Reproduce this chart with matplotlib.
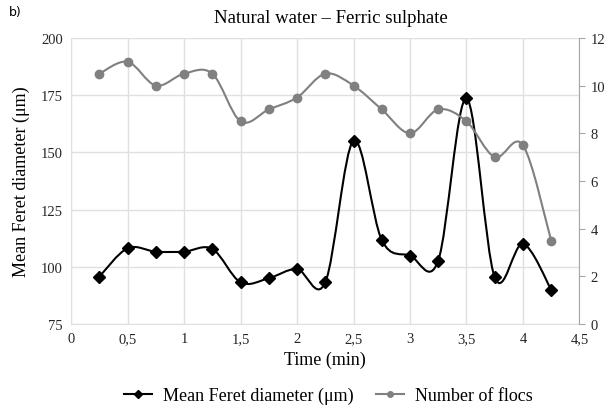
import numpy as np
import matplotlib
matplotlib.use('Agg')
import matplotlib.pyplot as plt
from matplotlib.path import Path
from matplotlib.patches import PathPatch
from matplotlib.lines import Line2D

plt.rcParams['font.family'] = ['Liberation Serif', 'DejaVu Serif']

# ── data ─────────────────────────────────────────────────────────────────
time_min = [0.25, 0.5, 0.75, 1.0, 1.25, 1.5, 1.75, 2.0, 2.25,
            2.5, 2.75, 3.0, 3.25, 3.5, 3.75, 4.0, 4.25]
feret = [95.7, 108.1, 106.6, 106.6, 107.8, 93.2, 95.0, 99.0, 93.2,
         155.1, 111.7, 104.9, 102.7, 173.6, 95.4, 110.0, 90.0]
flocs = [10.5, 11.0, 10.0, 10.5, 10.5, 8.5, 9.0, 9.5, 10.5,
         10.0, 9.0, 8.0, 9.0, 8.5, 7.0, 7.5, 3.5]

x_ticks = [0, 0.5, 1, 1.5, 2, 2.5, 3, 3.5, 4, 4.5]
x_labels = ['0', '0,5', '1', '1,5', '2', '2,5', '3', '3,5', '4', '4,5']
left_ticks = [75, 100, 125, 150, 175, 200]
right_ticks = [0, 2, 4, 6, 8, 10, 12]


def smooth_path(xs, ys, tension=1 / 6):
    # Excel-style smoothed line as cubic bezier segments
    xs = np.asarray(xs, float)
    ys = np.asarray(ys, float)
    verts = [(xs[0], ys[0])]
    codes = [Path.MOVETO]
    n = len(xs)
    for i in range(n - 1):
        p0 = np.array([xs[max(i - 1, 0)], ys[max(i - 1, 0)]])
        p1 = np.array([xs[i], ys[i]])
        p2 = np.array([xs[i + 1], ys[i + 1]])
        p3 = np.array([xs[min(i + 2, n - 1)], ys[min(i + 2, n - 1)]])
        c1 = p1 + (p2 - p0) * tension
        c2 = p2 - (p3 - p1) * tension
        verts += [tuple(c1), tuple(c2), tuple(p2)]
        codes += [Path.CURVE4] * 3
    return Path(verts, codes)


fig = plt.figure(figsize=(6.08, 4.14), dpi=100)
ax = fig.add_axes([0.117, 0.215, 0.836, 0.691])
ax2 = ax.twinx()

grid_c = '#e0e0e0'
tick_c = '#262626'

ax.set_xlim(0, 4.5)
ax.set_ylim(75, 200)
ax2.set_ylim(0, 12)
ax.set_xticks(x_ticks)
ax.set_xticklabels(x_labels)
ax.set_yticks(left_ticks)
ax2.set_yticks(right_ticks)
ax.grid(True, color=grid_c, lw=1)
ax.set_axisbelow(True)

for a in (ax, ax2):
    for s in a.spines.values():
        s.set_visible(False)
ax.spines['left'].set_visible(True)
ax.spines['left'].set_color(grid_c)
ax.spines['bottom'].set_visible(True)
ax.spines['bottom'].set_color(grid_c)
ax2.spines['right'].set_visible(True)
ax2.spines['right'].set_color('#a6a6a6')

ax.tick_params(axis='both', length=0, labelsize=10.5, labelcolor=tick_c, pad=6)
ax2.tick_params(axis='y', length=4, color='#a6a6a6', labelsize=10.5,
                labelcolor=tick_c, pad=4)

# smoothed lines
ax.add_patch(PathPatch(smooth_path(time_min, feret), fill=False,
                       edgecolor='black', lw=1.5, zorder=3))
ax.plot(time_min, feret, ls='none', marker='D', ms=6.5, color='black', zorder=4)

ax2.add_patch(PathPatch(smooth_path(time_min, flocs), fill=False,
                        edgecolor='#808080', lw=1.5, zorder=3))
ax2.plot(time_min, flocs, ls='none', marker='o', ms=6, color='#808080', zorder=4)

ax.set_xlabel('Time (min)', fontsize=13, labelpad=4)
ax.set_ylabel('Mean Feret diameter (μm)', fontsize=13, labelpad=8)
fig.text(0.545, 0.955, 'Natural water – Ferric sulphate', ha='center',
         va='center', fontsize=13.5)
fig.text(0.015, 0.971, 'b)', ha='left', va='center', fontsize=9,
         family=['DejaVu Sans'])

handles = [
    Line2D([], [], color='black', marker='D', ms=4, lw=1.5),
    Line2D([], [], color='#808080', marker='o', ms=4, lw=1.5),
]
fig.legend(handles, ['Mean Feret diameter (μm)', 'Number of flocs'],
           loc='center', bbox_to_anchor=(0.54, 0.042), ncol=2, frameon=False,
           fontsize=13, handlelength=1.6, columnspacing=1.2, handletextpad=0.6)

fig.savefig('out.png', dpi=100)
